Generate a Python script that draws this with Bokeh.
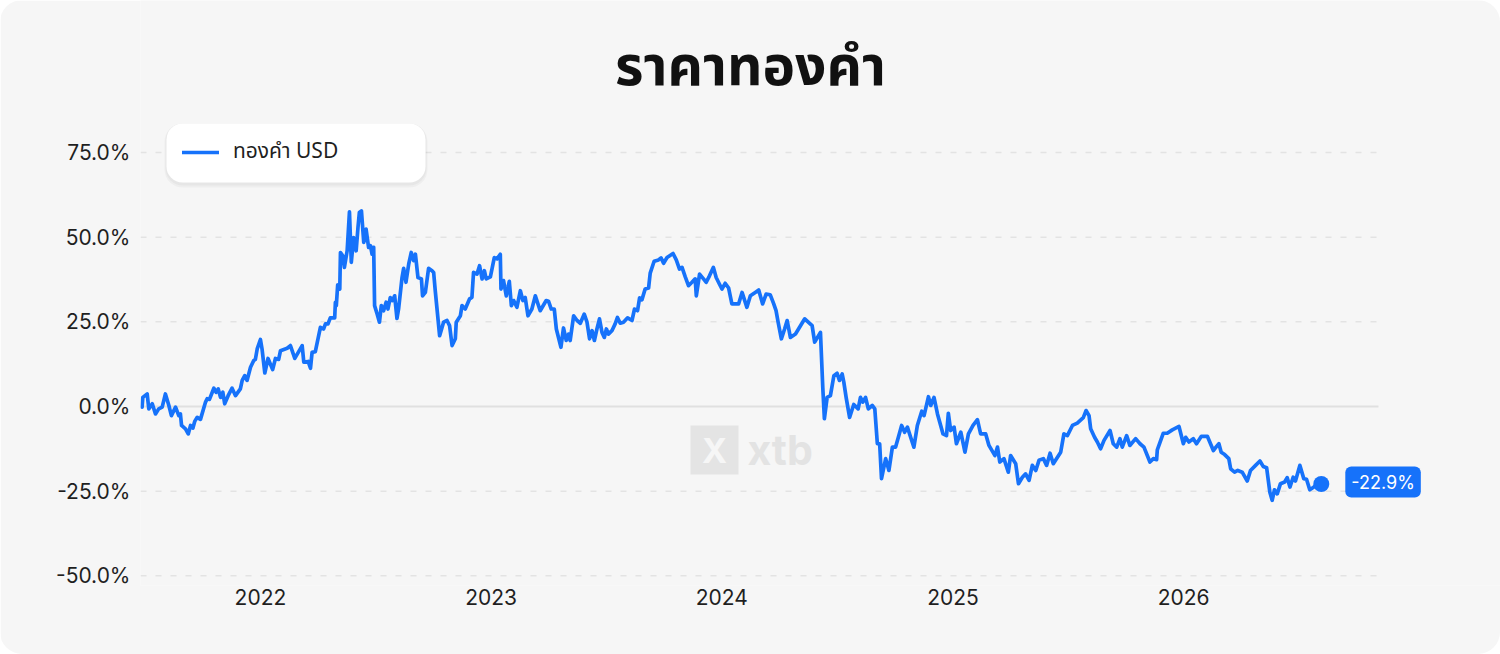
import datetime as dt
import calendar
from bokeh.plotting import figure
from bokeh.models import (Range1d, FixedTicker, PrintfTickFormatter, DatetimeTickFormatter,
                          Label, Legend, LegendItem, BoxAnnotation, ColumnDataSource)
from bokeh.embed import file_html
from bokeh.resources import INLINE

title_text = "ราคาทองคำ"
series_name = "ทองคำ USD"
y_ticks = [-50, -25, 0, 25, 50, 75]
x_tick_years = [2022, 2023, 2024, 2025, 2026]

# time as decimal years
dates_dec = [
    2021.487, 2021.490, 2021.509, 2021.516, 2021.531, 2021.545, 2021.559, 2021.574, 2021.588, 2021.603,
    2021.614, 2021.632, 2021.646, 2021.653, 2021.658, 2021.675, 2021.687, 2021.697, 2021.707, 2021.715,
    2021.726, 2021.740, 2021.762, 2021.769, 2021.779, 2021.798, 2021.808, 2021.817, 2021.827, 2021.837,
    2021.845, 2021.860, 2021.877, 2021.892, 2021.913, 2021.921, 2021.932, 2021.942, 2021.957, 2021.971,
    2021.978, 2021.986,
    2022.000, 2022.007, 2022.019, 2022.033, 2022.053, 2022.065, 2022.079, 2022.087,
    2022.116, 2022.130, 2022.149, 2022.181, 2022.188, 2022.207, 2022.217, 2022.224, 2022.238, 2022.260,
    2022.274, 2022.282, 2022.293, 2022.303, 2022.322, 2022.325, 2022.329, 2022.335, 2022.344, 2022.347,
    2022.357, 2022.364, 2022.376, 2022.386, 2022.394, 2022.404, 2022.415, 2022.423, 2022.429, 2022.438,
    2022.448, 2022.458, 2022.469, 2022.477, 2022.484, 2022.491, 2022.495, 2022.506, 2022.516, 2022.524,
    2022.534, 2022.545, 2022.553, 2022.563, 2022.573, 2022.582, 2022.592, 2022.599, 2022.614, 2022.621,
    2022.631, 2022.643, 2022.654, 2022.664, 2022.672, 2022.683, 2022.698, 2022.703, 2022.715, 2022.729,
    2022.744, 2022.751, 2022.758, 2022.777, 2022.794, 2022.809, 2022.820, 2022.831, 2022.845, 2022.849,
    2022.867, 2022.874, 2022.888, 2022.907, 2022.917, 2022.924, 2022.939, 2022.950, 2022.961, 2022.971,
    2022.979, 2022.997,
    2023.014, 2023.026, 2023.040, 2023.043, 2023.054, 2023.066, 2023.079, 2023.088, 2023.098, 2023.112,
    2023.127, 2023.138, 2023.148, 2023.160, 2023.177, 2023.192, 2023.213, 2023.239, 2023.249, 2023.261,
    2023.274, 2023.283, 2023.303, 2023.314, 2023.326, 2023.336, 2023.343, 2023.358, 2023.373, 2023.387,
    2023.404, 2023.416, 2023.427, 2023.438, 2023.448, 2023.459, 2023.470, 2023.481, 2023.491, 2023.500,
    2023.509, 2023.524, 2023.538, 2023.548, 2023.560, 2023.574, 2023.592, 2023.611, 2023.622, 2023.635,
    2023.644, 2023.654, 2023.668, 2023.683, 2023.690, 2023.707, 2023.726, 2023.737, 2023.748, 2023.763,
    2023.789, 2023.803, 2023.817, 2023.828, 2023.842, 2023.856, 2023.871, 2023.885, 2023.890, 2023.904,
    2023.921, 2023.933, 2023.947, 2023.964, 2023.976, 2023.990,
    2024.001, 2024.015, 2024.030, 2024.044, 2024.073, 2024.088, 2024.109, 2024.124, 2024.145, 2024.160,
    2024.177, 2024.192, 2024.210, 2024.225, 2024.235, 2024.244, 2024.258, 2024.272, 2024.283, 2024.297,
    2024.319, 2024.359, 2024.391, 2024.402, 2024.427, 2024.437, 2024.444, 2024.456, 2024.470, 2024.485,
    2024.499, 2024.509, 2024.521, 2024.528, 2024.538, 2024.553, 2024.571, 2024.590, 2024.600, 2024.610,
    2024.622, 2024.634, 2024.651, 2024.662, 2024.673, 2024.683, 2024.691, 2024.709, 2024.723, 2024.738,
    2024.752, 2024.766, 2024.778, 2024.791, 2024.803, 2024.817, 2024.831, 2024.846, 2024.865, 2024.875,
    2024.894, 2024.904, 2024.918, 2024.933, 2024.957, 2024.972, 2024.980, 2024.990,
    2025.005, 2025.015, 2025.034, 2025.052, 2025.067, 2025.087, 2025.106, 2025.120, 2025.142, 2025.156,
    2025.182, 2025.193, 2025.203, 2025.221, 2025.240, 2025.250, 2025.272, 2025.284, 2025.301, 2025.315,
    2025.330, 2025.344, 2025.359, 2025.373, 2025.392, 2025.406, 2025.421, 2025.435, 2025.467, 2025.481,
    2025.496, 2025.518, 2025.539, 2025.565, 2025.577, 2025.590, 2025.597, 2025.614, 2025.626, 2025.640,
    2025.655, 2025.681, 2025.695, 2025.710, 2025.724, 2025.734, 2025.753, 2025.767, 2025.792, 2025.811,
    2025.828, 2025.854, 2025.869, 2025.883, 2025.886, 2025.912, 2025.929, 2025.951, 2025.980, 2025.999,
    2026.009, 2026.023, 2026.042, 2026.056, 2026.077, 2026.103, 2026.129, 2026.143, 2026.153, 2026.163,
    2026.178, 2026.196, 2026.204, 2026.221, 2026.235, 2026.254, 2026.276, 2026.290, 2026.312, 2026.331,
    2026.345, 2026.360, 2026.374, 2026.384, 2026.394, 2026.406, 2026.420, 2026.438, 2026.449, 2026.461,
    2026.475, 2026.485, 2026.504, 2026.521, 2026.533, 2026.547, 2026.565, 2026.576, 2026.597,
]

gold_pct = [
    -0.2, 2.7, 3.7, -0.7, 0.8, -2.2, -0.7, -0.2, 3.7, 0.3,
    -2.7, -0.2, -2.7, -2.2, -5.6, -6.6, -8.1, -5.6, -6.4, -4.4,
    -3.2, -3.8, 1.3, 2.3, 2.1, 5.4, 4.2, 5.2, 2.7, 4.2,
    0.8, 3.2, 5.4, 3.2, 5.2, 7.7, 9.1, 7.7, 11.6, 13.6,
    13.9, 17.0,
    19.8, 17.0, 9.9, 14.2, 10.9, 14.2, 13.9, 16.5,
    17.2, 18.0, 14.2, 18.0, 13.1, 13.3, 11.3, 16.0, 16.2, 23.4,
    22.9, 24.4, 24.4, 26.2, 26.2, 30.8, 29.8, 35.9, 34.7, 45.5,
    44.5, 41.1, 46.0, 57.5, 42.6, 49.9, 46.0, 52.9, 57.3, 57.8,
    48.5, 52.4, 47.0, 47.5, 45.0, 47.0, 29.8, 27.3, 24.9, 29.8,
    28.3, 30.8, 28.8, 32.2, 31.3, 32.7, 26.0, 28.8, 38.1, 40.8,
    36.7, 42.1, 45.5, 43.1, 45.0, 38.1, 37.7, 32.7, 33.7, 40.8,
    40.1, 39.6, 34.2, 20.9, 24.9, 25.4, 23.9, 18.0, 20.0, 24.9,
    26.8, 29.8, 28.8, 31.8, 32.2, 39.6, 39.1, 41.6, 37.7, 40.1,
    37.7, 38.3,
    44.0, 43.6, 45.0, 34.7, 37.2, 32.7, 37.0, 29.8, 31.3, 29.3,
    34.2, 31.3, 32.2, 26.8, 28.8, 32.7, 28.3, 31.3, 31.1, 28.8,
    28.8, 22.9, 17.5, 23.2, 19.5, 21.4, 19.5, 26.8, 25.4, 24.6,
    27.3, 24.9, 20.0, 22.4, 19.5, 22.9, 25.9, 21.9, 20.4, 22.9,
    21.4, 22.4, 24.4, 26.3, 24.6, 24.9, 26.2, 25.4, 28.8, 28.3,
    32.1, 31.5, 34.7, 35.0, 39.4, 42.9, 43.3, 43.9, 42.3, 44.0,
    45.2, 43.3, 40.6, 41.1, 38.3, 35.7, 36.7, 37.7, 32.7, 39.1,
    37.7, 36.7, 38.6, 41.1, 38.1, 36.2,
    34.7, 36.4, 35.0, 30.3, 30.3, 33.7, 29.3, 32.7, 33.7, 34.4,
    30.3, 33.2, 33.0, 30.3, 28.3, 24.9, 20.0, 22.9, 25.4, 20.4,
    21.4, 25.9, 23.9, 19.0, 21.9, 5.7, -3.6, 2.7, 3.2, 9.1,
    9.8, 7.7, 9.6, 7.2, 2.7, -3.2, 0.6, -0.7, 2.7, 1.3,
    2.7, -0.7, 0.3, -0.7, -11.0, -11.0, -21.3, -15.4, -18.9, -12.0,
    -12.0, -8.6, -5.6, -7.6, -6.1, -9.1, -12.0, -5.6, -1.4, -2.7,
    2.9, 0.3, 2.7, -2.2, -8.1, -8.6, -2.0, -7.1,
    -6.1, -11.0, -7.6, -13.5, -8.1, -5.6, -3.9, -8.1, -8.1, -11.5,
    -14.5, -12.0, -16.4, -15.4, -19.4, -14.5, -16.9, -22.8, -20.9, -19.9,
    -21.8, -17.4, -18.9, -15.9, -15.4, -17.4, -13.8, -16.9, -13.5, -8.1,
    -8.6, -5.6, -4.9, -3.3, -1.2, -2.7, -6.6, -9.1, -10.5, -12.5,
    -10.0, -7.1, -11.0, -12.0, -9.5, -12.0, -8.6, -11.5, -9.5, -11.0,
    -12.0, -16.4, -15.4, -15.7, -12.8, -7.9, -7.9, -6.9, -5.9, -11.0,
    -9.1, -10.5, -9.5, -11.0, -8.8, -8.8, -13.0, -11.8, -11.0, -13.5,
    -14.2, -15.4, -18.4, -19.4, -18.9, -19.4, -22.0, -18.9, -17.4, -16.1,
    -17.7, -18.1, -25.3, -27.7, -24.6, -25.8, -22.8, -22.3, -21.0, -23.8,
    -20.9, -22.0, -17.4, -21.3, -21.5, -24.6, -23.8, -23.0, -22.9,
]

# visible extent of the plot area (decimal years) and of the horizontal grid
x_view = (2021.48, 2027.374)
grid_span = (2021.48, 2026.845)
y_view = (-52.88, 119.94)

BLUE = "#1672FA"
CARD = "#F6F6F6"
TEXT = "#1F1F1F"
THAI_FONT = "Noto Sans Thai, Noto Sans, sans-serif"


def dec_to_dt(y):
    yr = int(y // 1)
    start = dt.datetime(yr, 1, 1)
    end = dt.datetime(yr + 1, 1, 1)
    return start + (end - start) * (y - yr)


def to_ms(d):
    return calendar.timegm(d.timetuple()) * 1000.0


dates = [dec_to_dt(y) for y in dates_dec]
src = ColumnDataSource(data=dict(date=dates, pct=gold_pct))

p = figure(width=1500, height=654, x_axis_type="datetime",
           output_backend="svg", toolbar_location=None,
           x_range=Range1d(dec_to_dt(x_view[0]), dec_to_dt(x_view[1])),
           y_range=Range1d(*y_view),
           min_border_left=140, min_border_right=0,
           min_border_top=0, min_border_bottom=69,
           background_fill_color=CARD, border_fill_color=CARD,
           styles={"border-radius": "22px", "overflow": "hidden"})
p.outline_line_color = None

# axes
p.yaxis.ticker = FixedTicker(ticks=y_ticks)
p.yaxis.formatter = PrintfTickFormatter(format="%.1f%%")
p.xaxis.ticker = FixedTicker(ticks=[to_ms(dt.datetime(y, 1, 1)) for y in x_tick_years])
p.xaxis.formatter = DatetimeTickFormatter(years="%Y", months="%Y", days="%Y")
for ax in (p.xaxis[0], p.yaxis[0]):
    ax.axis_line_color = None
    ax.major_tick_line_color = None
    ax.minor_tick_line_color = None
    ax.major_tick_out = 0
    ax.major_tick_in = 0
    ax.minor_tick_out = 0
    ax.major_label_text_font = "Inter"
    ax.major_label_text_font_size = "21px"
    ax.major_label_text_color = TEXT
p.yaxis.major_label_standoff = 10
p.xaxis.major_label_standoff = 3

# grid (drawn only across the grid span)
p.xgrid.grid_line_color = None
p.ygrid.grid_line_color = None
g0, g1 = dec_to_dt(grid_span[0]), dec_to_dt(grid_span[1])
dash_ticks = [t for t in y_ticks if t != 0]
p.segment(x0=[g0] * len(dash_ticks), x1=[g1] * len(dash_ticks), y0=dash_ticks, y1=dash_ticks,
          line_color="#E3E3E3", line_width=1.5, line_dash="6 9")
p.segment(x0=[g0], x1=[g1], y0=[0], y1=[0], line_color="#E0E0E0", line_width=2)

# watermark
p.add_layout(BoxAnnotation(left=550, right=598, bottom=111, top=160,
                           left_units="screen", right_units="screen",
                           bottom_units="screen", top_units="screen",
                           fill_color="#E4E4E4", fill_alpha=1, line_color=None,
                           level="underlay"))
p.add_layout(Label(x=574, y=135, x_units="screen", y_units="screen", text="X",
                   text_align="center", text_baseline="middle",
                   text_font="Inter", text_font_size="34px",
                   text_font_style="bold", text_color=CARD, level="underlay"))
p.add_layout(Label(x=607, y=136, x_units="screen", y_units="screen", text="xtb",
                   text_align="left", text_baseline="alphabetic",
                   text_font="Inter", text_font_size="41px",
                   text_font_style="bold", text_color="#E3E3E3", level="underlay"))

# series
r = p.line(x="date", y="pct", source=src, line_color=BLUE, line_width=3.7,
           line_join="round", line_cap="round")

last_d, last_v = dates[-1], gold_pct[-1]
p.scatter(x=[last_d], y=[last_v], size=16, marker="circle",
          fill_color=BLUE, line_color=None)
p.add_layout(Label(x=last_d, y=last_v, x_offset=24, y_offset=2, text=f"{last_v:.1f}%",
                   text_align="left", text_baseline="middle",
                   text_font="Inter", text_font_size="18px",
                   text_color="white", background_fill_color=BLUE,
                   background_fill_alpha=1, padding=(6, 5), border_radius=6))

# legend card (with soft shadow) + legend
p.add_layout(BoxAnnotation(left=24, right=287, bottom=398, top=462,
                           left_units="screen", right_units="screen",
                           bottom_units="screen", top_units="screen",
                           fill_color="black", fill_alpha=0.03, line_color=None,
                           border_radius=18))
p.add_layout(BoxAnnotation(left=25, right=286, bottom=400, top=462,
                           left_units="screen", right_units="screen",
                           bottom_units="screen", top_units="screen",
                           fill_color="black", fill_alpha=0.03, line_color=None,
                           border_radius=17))
p.add_layout(BoxAnnotation(left=26, right=285, bottom=403, top=462,
                           left_units="screen", right_units="screen",
                           bottom_units="screen", top_units="screen",
                           fill_color="white", fill_alpha=1, line_color=None,
                           border_radius=16))
legend = Legend(items=[LegendItem(label=series_name, renderers=[r])],
                location=(42, 418), orientation="vertical",
                padding=0, margin=0, spacing=0,
                glyph_width=37, glyph_height=30, label_height=30,
                label_standoff=14,
                label_text_font=THAI_FONT,
                label_text_font_size="21px", label_text_color=TEXT,
                background_fill_alpha=0, border_line_color=None)
p.add_layout(legend)

# title
p.add_layout(Label(x=610, y=517, x_units="screen", y_units="screen", text=title_text,
                   text_align="center", text_baseline="alphabetic",
                   text_font=THAI_FONT,
                   text_font_size="55px", text_font_style="bold", text_color="#111111"))

open("out.html", "w").write(file_html(p, INLINE))
